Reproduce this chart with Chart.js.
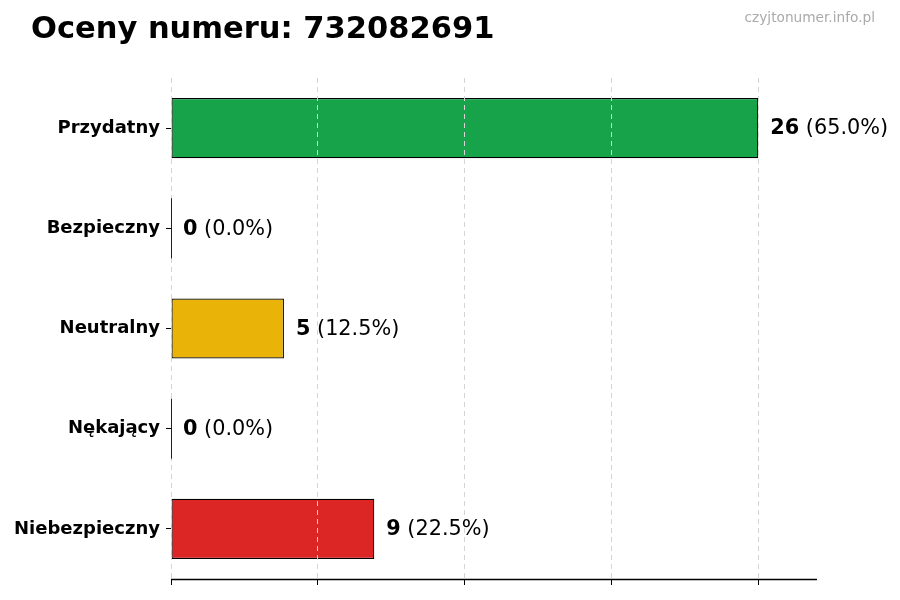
<!DOCTYPE html>
<html>
<head>
<meta charset="utf-8">
<script src="https://cdn.jsdelivr.net/npm/chart.js@4"></script>
<style>
    body { margin: 0; background: #fff; }
    #wrap { position: relative; width: 900px; height: 600px; }
    #title { position: absolute; left: 31px; top: 10px; font: bold 30.5px "DejaVu Sans"; color: #000; }
    #mark { position: absolute; right: 25px; top: 9px; font: 13.7px "DejaVu Sans"; color: #aaa; }
    canvas { position: absolute; left: 0; top: 0; }
</style>
</head>
<body>
<div id="wrap">
    <canvas id="chart" width="900" height="600"></canvas>
    <div id="title">Oceny numeru: 732082691</div>
    <div id="mark">czyjtonumer.info.pl</div>
</div>
<script>
// ratings of the number
var categories = ["Przydatny", "Bezpieczny", "Neutralny", "Nękający", "Niebezpieczny"];
var counts = [26, 0, 5, 0, 9];
var barColors = ["#17a34a", "#17a34a", "#eab308", "#dc2626", "#dc2626"];
var xTicks = [0, 6.5, 13, 19.5, 26];

var total = counts.reduce(function (a, b) { return a + b; }, 0);

var valueLabels = {
    id: "valueLabels",
    afterDraw: function (chart) {
        var ctx = chart.ctx;
        var area = chart.chartArea;
        var meta = chart.getDatasetMeta(0);
        ctx.save();
        // bottom spine
        ctx.strokeStyle = "#000";
        ctx.lineWidth = 1.3;
        ctx.beginPath();
        ctx.moveTo(area.left, area.bottom + 0.5);
        ctx.lineTo(area.right, area.bottom + 0.5);
        ctx.stroke();

        ctx.textBaseline = "middle";
        ctx.fillStyle = "#000";
        meta.data.forEach(function (bar, i) {
            var x = bar.x + 12;
            var num = String(counts[i]);
            var pct = " (" + (counts[i] / total * 100).toFixed(1) + "%)";
            ctx.font = "bold 20.8px 'DejaVu Sans'";
            ctx.fillText(num, x, bar.y + 1);
            var w = ctx.measureText(num).width;
            ctx.font = "20.8px 'DejaVu Sans'";
            ctx.fillText(pct, x + w, bar.y + 1);
            // thin edge for empty bars
            if (counts[i] === 0) {
                ctx.strokeStyle = "#222";
                ctx.lineWidth = 1;
                ctx.beginPath();
                ctx.moveTo(bar.base + 0.5, bar.y - bar.height / 2);
                ctx.lineTo(bar.base + 0.5, bar.y + bar.height / 2);
                ctx.stroke();
            }
        });
        ctx.restore();
    }
};

new Chart(document.getElementById("chart"), {
    type: "bar",
    data: {
        labels: categories,
        datasets: [{
            data: counts,
            backgroundColor: barColors,
            borderColor: "#000",
            borderWidth: 1.2,
            borderSkipped: false,
            barPercentage: 0.6,
            categoryPercentage: 1
        }]
    },
    options: {
        indexAxis: "y",
        responsive: false,
        animation: false,
        layout: { padding: { top: 78, right: 83, bottom: 0, left: 0 } },
        plugins: { legend: { display: false }, tooltip: { enabled: false } },
        scales: {
            x: {
                min: 0,
                max: 28.6,
                afterBuildTicks: function (scale) {
                    scale.ticks = xTicks.map(function (v) { return { value: v }; });
                },
                afterFit: function (scale) { scale.height = 21; },
                ticks: { color: "rgba(0,0,0,0)", font: { size: 1 } },
                grid: {
                    color: "#d4d4d4",
                    tickColor: "#000",
                    tickLength: 6,
                    tickBorderDash: [],
                    z: 1
                },
                border: { display: false, dash: [5, 4] }
            },
            y: {
                afterFit: function (scale) { scale.width = 171; },
                ticks: {
                    color: "#000",
                    padding: 6,
                    font: { family: "DejaVu Sans", size: 18, weight: "bold" }
                },
                grid: { offset: false, drawOnChartArea: false, tickColor: "#000", tickLength: 5 },
                border: { display: false }
            }
        }
    },
    plugins: [valueLabels]
});
</script>
</body>
</html>
